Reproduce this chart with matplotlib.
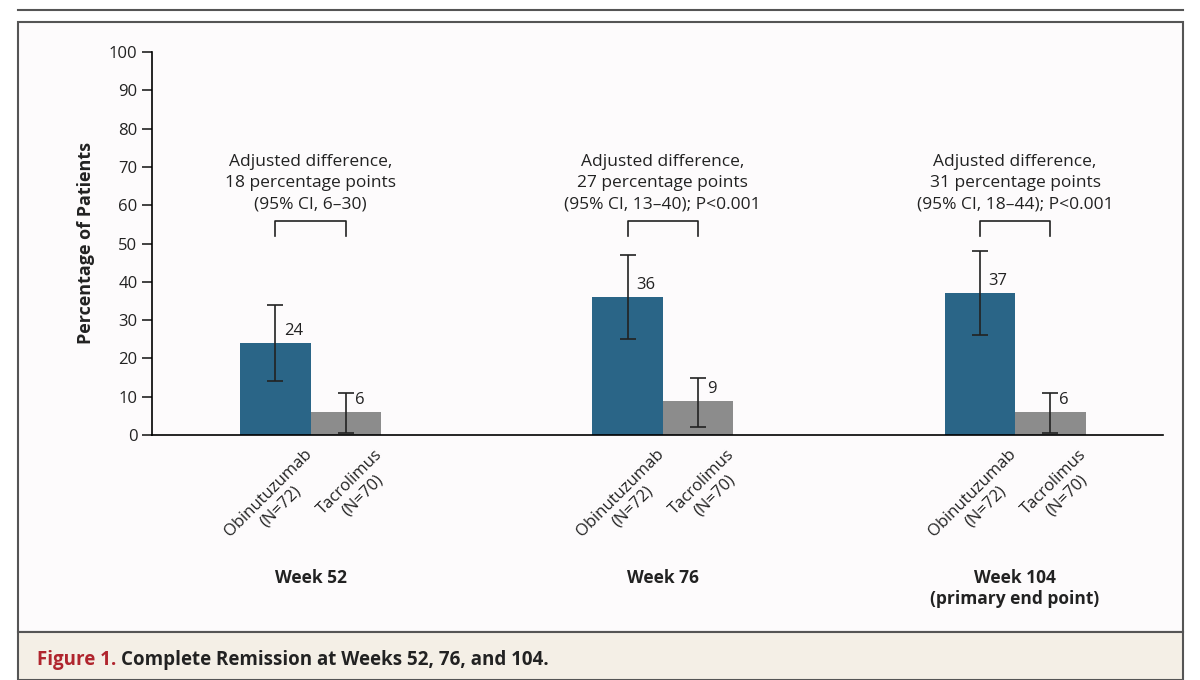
import matplotlib
matplotlib.use("Agg")
import matplotlib.pyplot as plt
from matplotlib.patches import Rectangle
from matplotlib.lines import Line2D

weeks = ["Week 52", "Week 76", "Week 104\n(primary end point)"]
obi = [24, 36, 37]
obi_lo = [14, 25, 26]
obi_hi = [34, 47, 48]
tac = [6, 9, 6]
tac_lo = [0.5, 2, 0.5]
tac_hi = [11, 15, 11]
diffs = ["Adjusted difference,\n18 percentage points\n(95% CI, 6\u201330)",
         "Adjusted difference,\n27 percentage points\n(95% CI, 13\u201340); P<0.001",
         "Adjusted difference,\n31 percentage points\n(95% CI, 18\u201344); P<0.001"]
obi_lab = "Obinutuzumab\n(N=72)"
tac_lab = "Tacrolimus\n(N=70)"

plt.rcParams['font.family'] = ['Open Sans', 'DejaVu Sans']
fig = plt.figure(figsize=(12, 6.8), dpi=100)
fig.patch.set_facecolor("white")
fig.add_artist(Rectangle((18/1200, 1-632/680), 1165/1200, (632-22)/680, transform=fig.transFigure,
                         facecolor="#fdfbfc", edgecolor="#555555", lw=1.5, zorder=-5))
fig.add_artist(Rectangle((18/1200, 0), 1165/1200, 48/680, transform=fig.transFigure,
                         facecolor="#f4efe6", edgecolor="#555555", lw=1.5, zorder=-5))
fig.add_artist(Line2D([18/1200, 1183/1200], [1-10/680]*2, transform=fig.transFigure, color="#555555", lw=1.5))
fig.text(37/1200, 1-660/680, "Figure 1.", color="#b0252e", fontsize=13.5, fontweight="bold", va="center")
fig.text(121/1200, 1-660/680, "Complete Remission at Weeks 52, 76, and 104.", color="#222222",
         fontsize=13.5, fontweight="bold", va="center")

ax = fig.add_axes([152/1200, 1-435/680, (1163-152)/1200, (435-52)/680])
ax.set_facecolor("none")
ax.set_zorder(2)
w = 0.2
xs = [0, 1, 2]
blue, gray = "#2a6587", "#8c8c8c"
for i in xs:
    xo, xt = i - w/2, i + w/2
    ax.bar(xo, obi[i], w, color=blue)
    ax.bar(xt, tac[i], w, color=gray)
    ax.errorbar([xo], [obi[i]], yerr=[[obi[i]-obi_lo[i]], [obi_hi[i]-obi[i]]], fmt="none",
                ecolor="#222222", elinewidth=1.2, capsize=6, capthick=1.2)
    ax.errorbar([xt], [tac[i]], yerr=[[tac[i]-tac_lo[i]], [tac_hi[i]-tac[i]]], fmt="none",
                ecolor="#222222", elinewidth=1.2, capsize=6, capthick=1.2)
    ax.text(xo + 0.025, obi[i] + 1, str(obi[i]), fontsize=12, ha="left", va="bottom", color="#222222")
    ax.text(xt + 0.025, tac[i] + 1, str(tac[i]), fontsize=12, ha="left", va="bottom", color="#222222")
    ax.plot([xo, xo, xt, xt], [52, 56, 56, 52], color="#222222", lw=1.2)
    ax.text(i, 58, diffs[i], ha="center", va="bottom", fontsize=12.5, color="#222222", linespacing=1.45)
    ax.text(xo + 0.08, -3, obi_lab, rotation=45, ha="right", va="top", fontsize=12,
            rotation_mode="anchor", multialignment="center", color="#222222", clip_on=False)
    ax.text(xt + 0.08, -3, tac_lab, rotation=45, ha="right", va="top", fontsize=12,
            rotation_mode="anchor", multialignment="center", color="#222222", clip_on=False)
    ax.text(i, -35, weeks[i], ha="center", va="top", fontsize=12.5, fontweight="bold", color="#222222")

ax.set_xlim(-0.45, 2.42)
ax.set_ylim(0, 100)
ax.set_yticks(range(0, 101, 10))
ax.set_xticks([])
ax.tick_params(axis="y", labelsize=12, length=7, width=1.2, colors="#222222")
for s in ["top", "right"]:
    ax.spines[s].set_visible(False)
ax.spines["left"].set_linewidth(1.2)
ax.spines["bottom"].set_linewidth(1.2)
ax.set_ylabel("Percentage of Patients", fontsize=13, fontweight="bold", color="#222222", labelpad=10)
fig.savefig("out.png", dpi=100)
